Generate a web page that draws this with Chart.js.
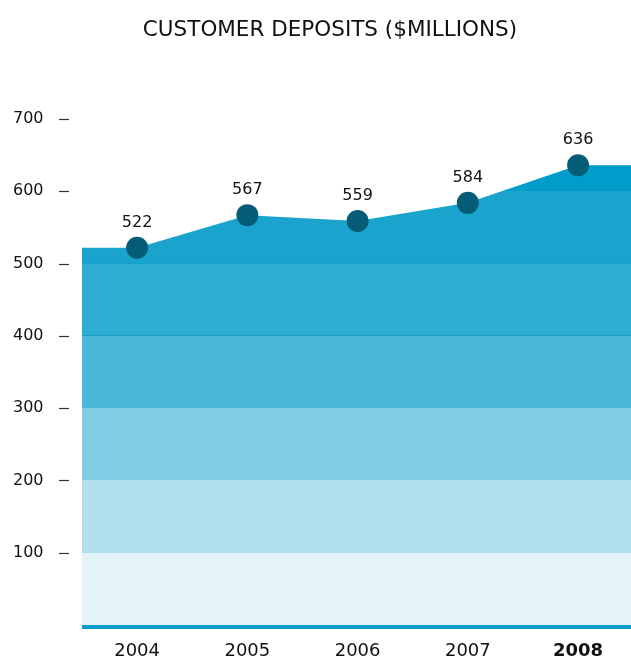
<!DOCTYPE html>
<html>
<head>
<meta charset="utf-8">
<title>Customer deposits</title>
<script src="https://cdn.jsdelivr.net/npm/chart.js@4.4.1/dist/chart.umd.min.js"></script>
<style>
  html, body { margin: 0; padding: 0; background: #fff; }
  canvas { display: block; }
</style>
</head>
<body>
<canvas id="chart" width="631" height="661"></canvas>
<script>
// Customer deposits by year, $ millions
const years = [2004, 2005, 2006, 2007, 2008];
const deposits = [522, 567, 559, 584, 636];
const yTicks = [100, 200, 300, 400, 500, 600, 700];

// one fill colour per 100-unit band, bottom to top
const bandColors = ['#e4f3f8', '#b2e0ef', '#80cce3', '#4cb8d8', '#2eadd3', '#1aa3cd', '#009cca'];
const bandLineColor = '#149ecb';
const bandLines = [400, 500];

const FONT = 'DejaVu Sans';
const yMax = yTicks[yTicks.length - 1];
const xMin = years[0] - 0.5;
const xMax = years[years.length - 1] + 0.48;

// the area runs flat out to both edges of the plot
const areaPoints = [
  { x: xMin, y: deposits[0] },
  ...years.map((yr, i) => ({ x: yr, y: deposits[i] })),
  { x: xMax, y: deposits[deposits.length - 1] }
];
const lastIdx = areaPoints.length - 1;

function bandFill(context) {
  const chart = context.chart;
  if (!chart.chartArea) return null;
  const y = chart.scales.y;
  const y0 = y.getPixelForValue(0);
  const y1 = y.getPixelForValue(yMax);
  const g = chart.ctx.createLinearGradient(0, y0, 0, y1);
  const px = 1 / (y0 - y1);
  bandColors.forEach((c, i) => {
    const lo = (i * 100) / yMax;
    const hi = ((i + 1) * 100) / yMax;
    const loLine = bandLines.includes(i * 100);
    const hiLine = bandLines.includes((i + 1) * 100);
    if (loLine) {
      g.addColorStop(lo, bandLineColor);
      g.addColorStop(lo + px * 0.6, bandLineColor);
      g.addColorStop(lo + px * 0.6, c);
    } else {
      g.addColorStop(lo, c);
    }
    if (hiLine) {
      g.addColorStop(hi - px * 0.6, c);
      g.addColorStop(hi - px * 0.6, bandLineColor);
    } else {
      g.addColorStop(hi, c);
    }
  });
  return g;
}

// heading above the plot
const titlePlugin = {
  id: 'heading',
  afterDraw(chart) {
    const ctx = chart.ctx;
    ctx.save();
    ctx.font = `21.5px "${FONT}"`;
    ctx.fillStyle = '#111';
    ctx.textAlign = 'center';
    ctx.textBaseline = 'middle';
    ctx.fillText('CUSTOMER DEPOSITS ($MILLIONS)', 330, 30);
    ctx.restore();
  }
};

// short dashes between the y labels and the plot, plus the heavy baseline
const axisMarks = {
  id: 'axisMarks',
  afterDraw(chart) {
    const { ctx, chartArea, scales } = chart;
    ctx.save();
    ctx.strokeStyle = '#333';
    ctx.lineWidth = 1.2;
    scales.y.ticks.forEach(t => {
      if (!t.value) return;
      const py = Math.round(scales.y.getPixelForValue(t.value)) + 0.5;
      ctx.beginPath();
      ctx.moveTo(chartArea.left - 23, py);
      ctx.lineTo(chartArea.left - 13, py);
      ctx.stroke();
    });
    ctx.fillStyle = '#0a9bca';
    ctx.fillRect(chartArea.left, chartArea.bottom, chartArea.right - chartArea.left, 4);
    ctx.restore();
  }
};

// value above each point
const valueLabels = {
  id: 'valueLabels',
  afterDatasetsDraw(chart) {
    const ctx = chart.ctx;
    const meta = chart.getDatasetMeta(0);
    ctx.save();
    ctx.font = `16px "${FONT}"`;
    ctx.fillStyle = '#111';
    ctx.textAlign = 'center';
    ctx.textBaseline = 'middle';
    meta.data.forEach((pt, i) => {
      if (i === 0 || i === lastIdx) return;
      ctx.fillText(String(deposits[i - 1]), pt.x, pt.y - 25);
    });
    ctx.restore();
  }
};

new Chart(document.getElementById('chart'), {
  type: 'line',
  data: {
    datasets: [{
      data: areaPoints,
      fill: 'origin',
      backgroundColor: bandFill,
      borderWidth: 0,
      tension: 0,
      pointRadius: ctx => (ctx.dataIndex === 0 || ctx.dataIndex === lastIdx) ? 0 : 11,
      pointHoverRadius: ctx => (ctx.dataIndex === 0 || ctx.dataIndex === lastIdx) ? 0 : 11,
      pointBackgroundColor: '#045c76',
      pointBorderWidth: 0,
      clip: false
    }]
  },
  options: {
    responsive: false,
    animation: false,
    layout: { padding: { top: 119, left: 13, right: 0, bottom: 0 } },
    plugins: {
      legend: { display: false },
      tooltip: { enabled: false },
      title: { display: false }
    },
    scales: {
      x: {
        type: 'linear',
        min: xMin,
        max: xMax,
        afterBuildTicks: scale => { scale.ticks = years.map(v => ({ value: v })); },
        afterFit: scale => { scale.height = 36; },
        grid: { display: false, drawTicks: false },
        border: { display: false },
        ticks: {
          autoSkip: false,
          maxRotation: 0,
          padding: 16,
          color: '#111',
          callback: v => String(v),
          font: ctx => ({
            family: FONT,
            size: 18,
            weight: ctx.tick && ctx.tick.value === years[years.length - 1] ? 'bold' : 'normal'
          })
        }
      },
      y: {
        min: 0,
        max: yMax,
        afterBuildTicks: scale => { scale.ticks = [0, ...yTicks].map(v => ({ value: v })); },
        afterFit: scale => { scale.width = 69; },
        grid: { display: false, drawTicks: false },
        border: { display: false },
        ticks: {
          padding: 0,
          crossAlign: 'far',
          color: '#111',
          font: { family: FONT, size: 16 },
          callback: v => (v === 0 ? '' : String(v))
        }
      }
    }
  },
  plugins: [titlePlugin, axisMarks, valueLabels]
});
</script>
</body>
</html>
